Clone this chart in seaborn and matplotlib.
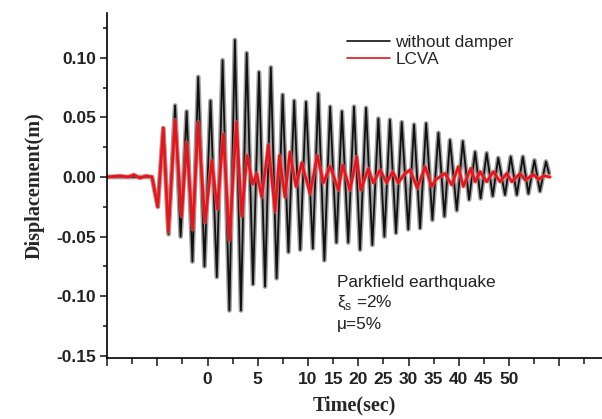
import numpy as np
import pandas as pd
import matplotlib
matplotlib.use("Agg")
import matplotlib.pyplot as plt
from matplotlib.lines import Line2D
import seaborn as sns

# ---- data (time in axis tick units, displacement in m) ----
t_nodamper = [0.00, 1.79, 2.02, 2.24, 2.45, 2.71, 2.93, 3.17, 3.40, 3.63, 3.88, 4.12,
              4.37, 4.60, 4.87, 5.09, 5.33, 5.56, 5.81, 6.05, 6.29, 6.52, 6.75, 6.99,
              7.22, 7.45, 7.69, 7.92, 8.19, 8.41, 8.65, 8.88, 9.13, 9.35, 9.60, 9.83,
              10.07, 10.31, 10.56, 10.80, 11.04, 11.26, 11.50, 11.73, 11.99, 12.22,
              12.46, 12.70, 12.95, 13.19, 13.43, 13.65, 13.92, 14.16, 14.41, 14.65,
              14.87, 15.11, 15.35, 15.57, 15.84, 16.07, 16.31, 16.55, 16.77, 17.01,
              17.23, 17.47, 17.59]
d_nodamper = [0.000, 0.000, -0.025, 0.041, -0.048, 0.060, -0.050, 0.055, -0.071, 0.084,
              -0.075, 0.064, -0.084, 0.098, -0.112, 0.115, -0.112, 0.104, -0.090, 0.088,
              -0.092, 0.092, -0.085, 0.069, -0.063, 0.064, -0.061, 0.063, -0.060, 0.070,
              -0.070, 0.059, -0.055, 0.055, -0.055, 0.059, -0.061, 0.058, -0.057, 0.049,
              -0.050, 0.048, -0.047, 0.046, -0.044, 0.044, -0.043, 0.045, -0.036, 0.037,
              -0.033, 0.031, -0.028, 0.030, -0.019, 0.021, -0.018, 0.020, -0.016, 0.016,
              -0.015, 0.017, -0.015, 0.017, -0.014, 0.014, -0.012, 0.013, 0.003]

t_lcva = [0.00, 0.52, 0.84, 1.07, 1.31, 1.55, 1.79, 2.02, 2.24, 2.44, 2.71, 2.97, 3.17,
          3.41, 3.63, 3.90, 4.17, 4.39, 4.63, 4.87, 5.15, 5.36, 5.57, 5.80, 5.96, 6.16,
          6.42, 6.69, 6.86, 7.08, 7.28, 7.52, 7.75, 8.08, 8.37, 8.61, 8.88, 9.21, 9.38,
          9.67, 9.94, 10.10, 10.40, 10.60, 10.87, 11.13, 11.37, 11.59, 11.82, 12.06,
          12.35, 12.66, 12.92, 13.09, 13.45, 13.72, 13.98, 14.18, 14.48, 14.65, 14.85,
          15.11, 15.38, 15.64, 15.91, 16.11, 16.44, 16.64, 16.97, 17.17, 17.39, 17.63]
d_lcva = [0.000, 0.001, 0.000, 0.002, -0.001, 0.001, 0.000, -0.025, 0.041, -0.046, 0.048,
          -0.033, 0.029, -0.044, 0.046, -0.038, 0.014, -0.027, 0.036, -0.053, 0.046,
          -0.033, 0.018, -0.006, 0.003, -0.017, 0.027, -0.029, 0.018, -0.017, 0.021,
          -0.008, 0.012, -0.014, 0.018, -0.005, 0.009, -0.011, 0.010, -0.011, 0.017,
          -0.011, 0.007, -0.005, 0.006, -0.005, 0.0045, -0.005, 0.002, 0.006, -0.0095,
          0.0087, -0.008, -0.002, 0.003, -0.0067, 0.0087, -0.008, 0.0073, -0.004, 0.0045,
          -0.004, 0.0045, -0.004, 0.003, -0.004, 0.003, -0.0025, 0.002, -0.002, 0.001,
          0.000]

x_major_pos = [0, 2, 4, 6, 8, 10, 12, 14, 16, 18]
x_major_labels = ["", "", "0", "5", "10", "20", "30", "40", "50", ""]
x_minor_pos = [1, 3, 5, 7, 9, 11, 13, 15, 17, 19]
x_minor_labels = ["", "", "", "", "15", "25", "35", "45", "", ""]
y_major = [-0.15, -0.10, -0.05, 0.00, 0.05, 0.10]
y_major_labels = ["-0.15", "-0.10", "-0.05", "0.00", "0.05", "0.10"]
y_minor = [-0.125, -0.075, -0.025, 0.025, 0.075, 0.125]

series_names = ["without damper", "LCVA"]
series_colors = ["#111111", "#e8141c"]

df_nd = pd.DataFrame({"t": t_nodamper, "d": d_nodamper})
df_lc = pd.DataFrame({"t": t_lcva, "d": d_lcva})

sns.set_style("ticks")
plt.rcParams["font.family"] = ["Liberation Sans", "DejaVu Sans"]
plt.rcParams["axes.unicode_minus"] = False

fig = plt.figure(figsize=(6.02, 4.19), dpi=100)
ax = fig.add_axes([107 / 602, 61 / 419, 495 / 602, 345 / 419])

sns.lineplot(data=df_nd, x="t", y="d", ax=ax, color="#a0a0a0", linewidth=3.4,
             estimator=None, legend=False, solid_joinstyle="round")
sns.lineplot(data=df_nd, x="t", y="d", ax=ax, color=series_colors[0], linewidth=1.3,
             estimator=None, legend=False, solid_joinstyle="round")
sns.lineplot(data=df_lc, x="t", y="d", ax=ax, color="#f07070", linewidth=3.0,
             estimator=None, legend=False, solid_joinstyle="round", alpha=0.6)
sns.lineplot(data=df_lc, x="t", y="d", ax=ax, color=series_colors[1], linewidth=1.9,
             estimator=None, legend=False, solid_joinstyle="round")

ax.set_xlim(0, 19.70)
ax.set_ylim(-0.1519, 0.1376)

for s in ["top", "right"]:
    ax.spines[s].set_visible(False)
for s in ["left", "bottom"]:
    ax.spines[s].set_linewidth(1.2)
    ax.spines[s].set_color("black")

ax.set_xticks(x_major_pos, labels=x_major_labels)
ax.set_xticks(x_minor_pos, labels=x_minor_labels, minor=True)
ax.set_yticks(y_major, labels=y_major_labels)
ax.set_yticks(y_minor, minor=True)

ax.tick_params(axis="x", which="major", length=6, width=1.2, pad=4, labelsize=12.5)
ax.tick_params(axis="x", which="minor", length=4, width=1.2, pad=6, labelsize=12.5)
ax.tick_params(axis="y", which="major", length=5, width=1.2, pad=3, labelsize=12.5)
ax.tick_params(axis="y", which="minor", length=3, width=1.2)
for lbl in ax.get_xticklabels(which="both") + ax.get_yticklabels():
    lbl.set_fontweight("bold")
    lbl.set_color("#222222")

ax.set_xlabel("Time(sec)", family="Liberation Serif", fontweight="bold", fontsize=14.5,
              labelpad=6)
ax.set_ylabel("Displacement(m)", family="Liberation Serif", fontweight="bold",
              fontsize=14.5, labelpad=8)

handles = [Line2D([], [], color=c, lw=1.2) for c in series_colors]
ax.legend(handles, series_names, loc="upper left",
          bbox_to_anchor=(347 / 602, 1 - 35 / 419), bbox_transform=fig.transFigure,
          frameon=False, fontsize=12.4, handlelength=2.5, handletextpad=0.3,
          labelspacing=0.1, borderpad=0, borderaxespad=0)

txt_kw = dict(transform=fig.transFigure, fontsize=12.4, color="#222222", va="center",
              ha="left")
fig.text(337 / 602, 1 - 282 / 419, "Parkfield earthquake", **txt_kw)
fig.text(337 / 602, 1 - 303 / 419, r"ξ$_{\mathregular{s}}$ =2%", **txt_kw)
fig.text(337 / 602, 1 - 324 / 419, "μ=5%", **txt_kw)

fig.savefig("out.png", dpi=100)
